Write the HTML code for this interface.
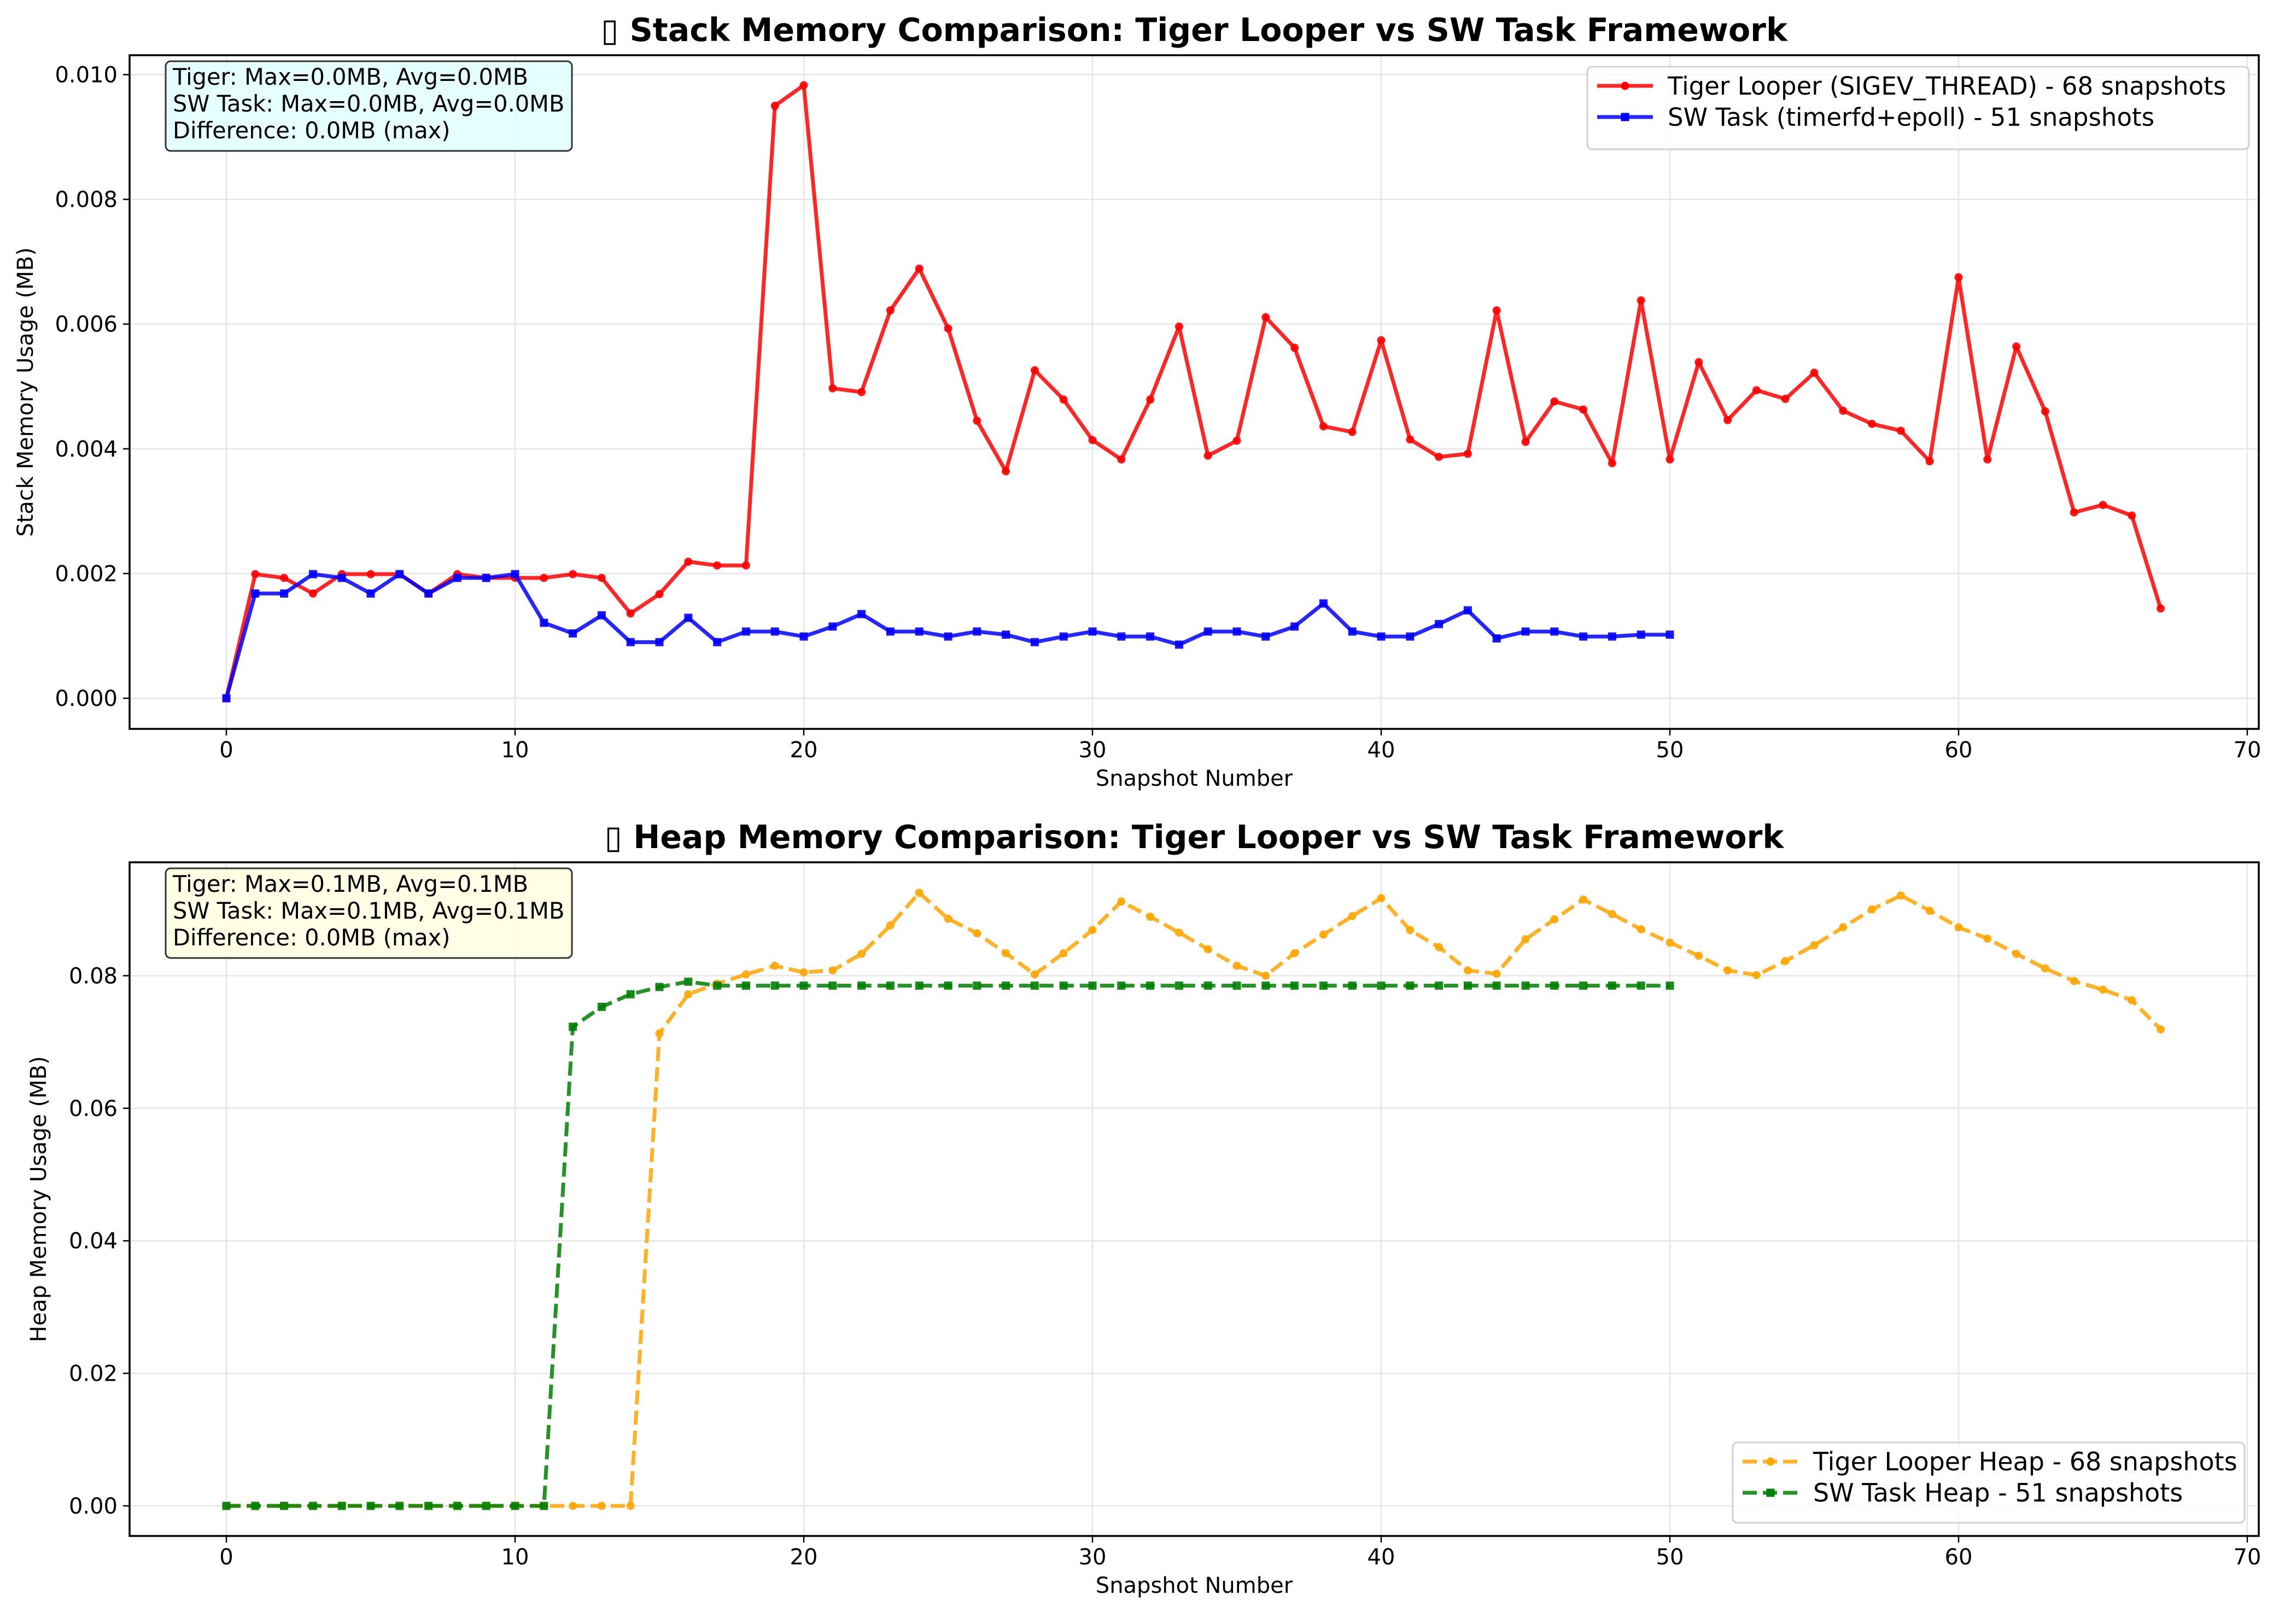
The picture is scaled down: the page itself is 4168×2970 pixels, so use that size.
<!DOCTYPE html>
<html><head><meta charset="utf-8">
<style>
html,body{margin:0;padding:0;background:#fff;}
svg{display:block;font-family:"DejaVu Sans","Liberation Sans",sans-serif;}
</style></head>
<body>
<svg id="fig" width="4168" height="2970" viewBox="0 0 4168 2970" xmlns="http://www.w3.org/2000/svg">
<rect width="4168" height="2970" fill="#fff"/>
</svg>
<script>
const snapshotTicks=[0,10,20,30,40,50,60,70];
const stackTicks=[0,0.002,0.004,0.006,0.008,0.010];
const stackTickLabels=["0.000","0.002","0.004","0.006","0.008","0.010"];
const heapTicks=[0,0.02,0.04,0.06,0.08];
const heapTickLabels=["0.00","0.02","0.04","0.06","0.08"];
const tigerStack=[0,0.00199,0.00193,0.00168,0.00199,0.00199,0.00199,0.00168,0.00199,0.00193,0.00193,0.00193,0.00199,0.00193,0.00136,0.00167,0.00219,0.00213,0.00213,0.0095,0.00983,0.00497,0.00491,0.00622,0.00689,0.00593,0.00445,0.00364,0.00526,0.00479,0.00414,0.00383,0.00479,0.00596,0.00389,0.00413,0.00611,0.00562,0.00436,0.00427,0.00574,0.00415,0.00387,0.00392,0.00622,0.00411,0.00476,0.00463,0.00377,0.00638,0.00383,0.00539,0.00446,0.00494,0.0048,0.00522,0.00461,0.0044,0.00429,0.0038,0.00675,0.00383,0.00564,0.0046,0.00298,0.0031,0.00293,0.00144];
const swStack=[0,0.00168,0.00168,0.00199,0.00193,0.00168,0.00199,0.00168,0.00193,0.00193,0.00199,0.00121,0.00104,0.00133,0.0009,0.0009,0.00129,0.0009,0.00107,0.00107,0.00099,0.00115,0.00135,0.00107,0.00107,0.00099,0.00107,0.00102,0.0009,0.00099,0.00107,0.00099,0.00099,0.00086,0.00107,0.00107,0.00099,0.00115,0.00152,0.00107,0.00099,0.00099,0.00119,0.00141,0.00096,0.00107,0.00107,0.00099,0.00099,0.00102,0.00102];
const tigerHeap=[0,0,0,0,0,0,0,0,0,0,0,0,0,0,0,0.0713,0.0772,0.0788,0.0802,0.0815,0.0805,0.0808,0.0833,0.0876,0.0925,0.0886,0.0864,0.0834,0.0802,0.0834,0.0869,0.0912,0.0889,0.0865,0.0840,0.0815,0.0800,0.0834,0.0862,0.0890,0.0917,0.0869,0.0843,0.0808,0.0803,0.0855,0.0885,0.0915,0.0893,0.0870,0.0850,0.0830,0.0808,0.0801,0.0822,0.0846,0.0873,0.0900,0.0921,0.0898,0.0873,0.0856,0.0833,0.0811,0.0792,0.0779,0.0763,0.0719];
const swHeap=[0,0,0,0,0,0,0,0,0,0,0,0,0.0723,0.0753,0.0772,0.0783,0.0791,0.0785,0.0785,0.0785,0.0785,0.0785,0.0785,0.0785,0.0785,0.0785,0.0785,0.0785,0.0785,0.0785,0.0785,0.0785,0.0785,0.0785,0.0785,0.0785,0.0785,0.0785,0.0785,0.0785,0.0785,0.0785,0.0785,0.0785,0.0785,0.0785,0.0785,0.0785,0.0785,0.0785,0.0785];

const NS="http://www.w3.org/2000/svg";
const svg=document.getElementById('fig');
function mk(tag,attrs,parent){const e=document.createElementNS(NS,tag);for(const k in attrs)e.setAttribute(k,attrs[k]);(parent||svg).appendChild(e);return e;}
function txt(s,attrs,parent){const e=mk('text',attrs,parent);e.textContent=s;return e;}

const X0=414, XS=52.8;
function xPos(v){return X0+v*XS;}

function panel(cfg){
  const g=mk('g',{});
  
  
  const L=237,R=4131,T=cfg.top,B=cfg.bottom;
  const yPos=v=>cfg.y0-v*cfg.ys;
  snapshotTicks.forEach(t=>{const l=mk('line',{x1:xPos(t),x2:xPos(t),y1:T,y2:B,stroke:'#e6e6e6','stroke-width':2.5},g);
    });
  cfg.yTicks.forEach(t=>{const l=mk('line',{x1:L,x2:R,y1:yPos(t),y2:yPos(t),stroke:'#e6e6e6','stroke-width':2.5},g);
    });
  cfg.series.forEach(s=>{
    const sg=mk('g',{},g);
    
    
    const pts=s.data.map((v,i)=>xPos(i).toFixed(1)+','+yPos(v).toFixed(1)).join(' ');
    const a={points:pts,fill:'none',stroke:s.color,'stroke-width':7,'stroke-opacity':0.85,'stroke-linejoin':'round'};
    if(s.dash)a['stroke-dasharray']=s.dash;
    const pl=mk('polyline',a,sg);
    
    s.data.forEach((v,i)=>{
      let m;
      if(s.marker==='o')m=mk('circle',{cx:xPos(i),cy:yPos(v),r:7.5,fill:s.color,'fill-opacity':0.9},sg);
      else m=mk('rect',{x:xPos(i)-7.5,y:yPos(v)-7.5,width:15,height:15,fill:s.color,'fill-opacity':0.9},sg);
      
    });
  });
  const fr=mk('rect',{x:L,y:T,width:R-L,height:B-T,fill:'none',stroke:'#000','stroke-width':3.5},g);
  
  snapshotTicks.forEach(t=>{mk('line',{x1:xPos(t),x2:xPos(t),y1:B,y2:B+12,stroke:'#000','stroke-width':2.5},g);
    const e=txt(String(t),{x:xPos(t),y:B+52,'font-size':40,'text-anchor':'middle',fill:'#000'},g);
    });
  cfg.yTicks.forEach((t,i)=>{mk('line',{x1:L-12,x2:L,y1:yPos(t),y2:yPos(t),stroke:'#000','stroke-width':2.5},g);
    const e=txt(cfg.yLabels[i],{x:L-22,y:yPos(t)+14,'font-size':40,'text-anchor':'end',fill:'#000'},g);
    });
  const xt=txt('Snapshot Number',{x:(L+R)/2,y:B+104,'font-size':40,'text-anchor':'middle',fill:'#000'},g);
  
  const cy=(T+B)/2;
  const yt=txt(cfg.yTitle,{x:cfg.yTitleX,y:cy,'font-size':40,'text-anchor':'middle',fill:'#000',transform:`rotate(-90 ${cfg.yTitleX} ${cy})`},g);
  
  const tt=txt(cfg.title,{x:(L+R)/2,y:T-26,'font-size':58.5,'font-weight':'bold','text-anchor':'middle',fill:'#000'},g);
  
  const sb=mk('g',{},g);
  
  mk('rect',{x:303,y:T+11,width:743,height:164,rx:9,fill:cfg.boxFill,'fill-opacity':0.85,stroke:'#333','stroke-width':3},sb);
  cfg.stats.forEach((s,i)=>{const e=txt(s,{x:316,y:T+54+i*49,'font-size':41.5,fill:'#000'},sb);
    });
  const lg=mk('g',{},g);
  
  const lx=cfg.legend.x,ly=cfg.legend.y;
  mk('rect',{x:lx,y:ly,width:cfg.legend.w,height:cfg.legend.h,rx:9,fill:'#fff','fill-opacity':0.8,stroke:'#d0d0d0','stroke-width':3},lg);
  cfg.series.forEach((s,i)=>{
    const en=mk('g',{},lg);
    
    const yy=ly+48+i*57;
    const a={x1:lx+18,x2:lx+120,y1:yy-13,y2:yy-13,stroke:s.color,'stroke-width':7,'stroke-opacity':0.85};
    if(s.dash)a['stroke-dasharray']=s.dash;
    mk('line',a,en);
    if(s.marker==='o')mk('circle',{cx:lx+69,cy:yy-13,r:7.5,fill:s.color},en);
    else mk('rect',{x:lx+61.5,y:yy-20.5,width:15,height:15,fill:s.color},en);
    txt(s.label,{x:lx+147,y:yy+3,'font-size':cfg.legend.fs,fill:'#000'},en);
  });
}

panel({name:'stack-memory-chart',top:101,bottom:1333,y0:1277,ys:114050,yTicks:stackTicks,yLabels:stackTickLabels,
  yTitle:'Stack Memory Usage (MB)',yTitleX:60,title:'\u25AF Stack Memory Comparison: Tiger Looper vs SW Task Framework',
  boxFill:'#e0ffff',stats:['Tiger: Max=0.0MB, Avg=0.0MB','SW Task: Max=0.0MB, Avg=0.0MB','Difference: 0.0MB (max)'],
  legend:{x:2903,y:122,w:1210,h:151,fs:45},
  series:[{name:'tiger-stack-series',data:tigerStack,color:'#ff0000',marker:'o',label:'Tiger Looper (SIGEV_THREAD) - 68 snapshots'},
          {name:'sw-stack-series',data:swStack,color:'#0000ff',marker:'s',label:'SW Task (timerfd+epoll) - 51 snapshots'}]});

panel({name:'heap-memory-chart',top:1577,bottom:2809,y0:2754,ys:12120,yTicks:heapTicks,yLabels:heapTickLabels,
  yTitle:'Heap Memory Usage (MB)',yTitleX:84,title:'\u25AF  Heap Memory Comparison: Tiger Looper vs SW Task Framework',
  boxFill:'#ffffe0',stats:['Tiger: Max=0.1MB, Avg=0.1MB','SW Task: Max=0.1MB, Avg=0.1MB','Difference: 0.0MB (max)'],
  legend:{x:3169,y:2638,w:936,h:147,fs:46},
  series:[{name:'tiger-heap-series',data:tigerHeap,color:'#ffa500',marker:'o',dash:'26,11',label:'Tiger Looper Heap - 68 snapshots'},
          {name:'sw-heap-series',data:swHeap,color:'#008000',marker:'s',dash:'26,11',label:'SW Task Heap - 51 snapshots'}]});
</script>
</body></html>
